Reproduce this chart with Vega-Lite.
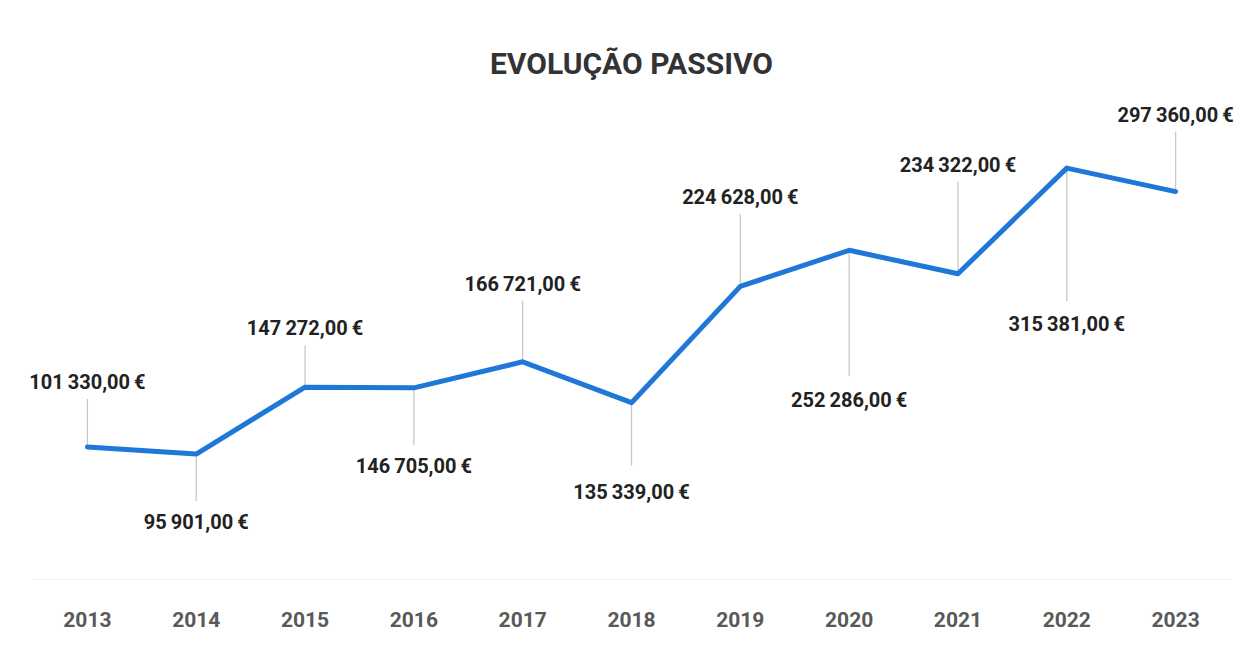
{
  "$schema": "https://vega.github.io/schema/vega-lite/v6.json",
  "width": 1197,
  "height": 456,
  "autosize": "none",
  "padding": {"left": 33, "top": 123, "right": 18, "bottom": 69},
  "background": "white",
  "config": {
    "view": {"stroke": null},
    "locale": {
      "number": {"decimal": ",", "thousands": "\u2009", "grouping": [3], "currency": ["", "\u2009€"]}
    }
  },
  "title": {
    "text": "EVOLUÇÃO PASSIVO",
    "font": "Roboto",
    "fontSize": 30,
    "fontWeight": "bold",
    "color": "#333333",
    "anchor": "middle",
    "frame": "group",
    "baseline": "bottom",
    "offset": -4
  },
  "data": {
    "values": [
      {"year": 2013, "value": 101330},
      {"year": 2014, "value": 95901},
      {"year": 2015, "value": 147272},
      {"year": 2016, "value": 146705},
      {"year": 2017, "value": 166721},
      {"year": 2018, "value": 135339},
      {"year": 2019, "value": 224628},
      {"year": 2020, "value": 252286},
      {"year": 2021, "value": 234322},
      {"year": 2022, "value": 315381},
      {"year": 2023, "value": 297360}
    ]
  },
  "encoding": {
    "x": {
      "field": "year",
      "type": "ordinal",
      "title": null,
      "axis": {
        "labelAngle": 0,
        "labelFont": "Roboto",
        "labelFontSize": 21,
        "labelFontWeight": "bold",
        "labelColor": "#595959",
        "labelPadding": 30,
        "ticks": false,
        "domainColor": "#f0f0f0",
        "domainWidth": 1,
        "grid": false
      }
    },
    "y": {
      "field": "value",
      "type": "quantitative",
      "scale": {"domain": [0, 350000]},
      "axis": null
    }
  },
  "layer": [
    {
      "mark": {
        "type": "rule",
        "color": "#c8c8c8",
        "strokeWidth": 1.3,
        "y2Offset": {"expr": "[-48,47,-42,57,-61,63,-72,126,-92,133,-60][datum.year-2013]"}
      },
      "encoding": {"y2": {"field": "value"}}
    },
    {
      "mark": {"type": "line", "color": "#1f78d8", "strokeWidth": 5, "strokeCap": "round", "strokeJoin": "round"}
    },
    {
      "mark": {
        "type": "text",
        "font": "Roboto",
        "fontSize": 20,
        "fontWeight": "bold",
        "color": "#222222",
        "baseline": "middle",
        "align": "center",
        "dy": {"expr": "[-64,69,-58,79,-77,90,-88,151,-108,157,-76][datum.year-2013]"}
      },
      "encoding": {"text": {"field": "value", "type": "quantitative", "format": "$,.2f"}}
    }
  ]
}
